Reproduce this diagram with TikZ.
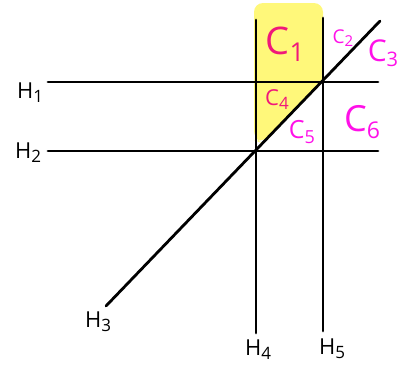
\documentclass[tikz,border=0pt]{standalone}
\usepackage{fontspec}
\setmainfont{Open Sans}
\definecolor{hl}{HTML}{FFF87A}
\definecolor{cred}{HTML}{F0187A}
\definecolor{cmag}{HTML}{FF10E8}
\tikzset{
  hyp/.style={line width=2.8pt, line cap=round, black},
  hlab/.style={inner sep=0pt, font=\fontsize{22}{22}\selectfont},
  clab/.style={inner sep=0pt, text=cmag},
}
\newcommand\dsub[2]{\raisebox{-0.18em}{\fontsize{#1}{#1}\selectfont #2}}
\begin{document}
\begin{tikzpicture}[x=1pt,y=-1pt]
\useasboundingbox (0,0) rectangle (408,370);
% highlighted region C1 + C4
\fill[hl, rounded corners=9pt] (254,140) -- (254,3) -- (323,3) -- (323,82) -- (262,143) -- cycle;
% endpoints
\coordinate (h1a) at (48,82);  \coordinate (h1b) at (378,82);
\coordinate (h2a) at (48,151); \coordinate (h2b) at (378,151);
\coordinate (h3a) at (106,306); \coordinate (h3b) at (380,21);
\coordinate (h4a) at (256,20);  \coordinate (h4b) at (256,333);
\coordinate (h5a) at (323,18);  \coordinate (h5b) at (323,331);
\draw[hyp] (h1a) -- (h1b);
\draw[hyp] (h2a) -- (h2b);
\draw[hyp] (h3a) -- (h3b);
\draw[hyp] (h4a) -- (h4b);
\draw[hyp] (h5a) -- (h5b);
% H labels
\node[hlab] (H1) at (30,93) {H\dsub{17}{1}};
\node[hlab] (H2) at (28,153) {H\dsub{17}{2}};
\node[hlab] (H3) at (98,322) {H\dsub{17}{3}};
\node[hlab] (H4) at (258,350) {H\dsub{17}{4}};
\node[hlab] (H5) at (332,349) {H\dsub{17}{5}};
% C labels
\node[clab, text=cred, font=\fontsize{38}{38}\selectfont] (C1) at (285,44) {C\dsub{26}{1}};
\node[clab, font=\fontsize{19}{19}\selectfont] (C2) at (343,38) {C\dsub{15}{2}};
\node[clab, font=\fontsize{30}{30}\selectfont] (C3) at (383,53) {C\dsub{20}{3}};
\node[clab, text=cred, font=\fontsize{22}{22}\selectfont] (C4) at (277,100) {C\dsub{17}{4}};
\node[clab, font=\fontsize{25}{25}\selectfont] (C5) at (302,132) {C\dsub{18}{5}};
\node[clab, font=\fontsize{36}{36}\selectfont] (C6) at (362,122) {C\dsub{23}{6}};
\end{tikzpicture}
\end{document}
